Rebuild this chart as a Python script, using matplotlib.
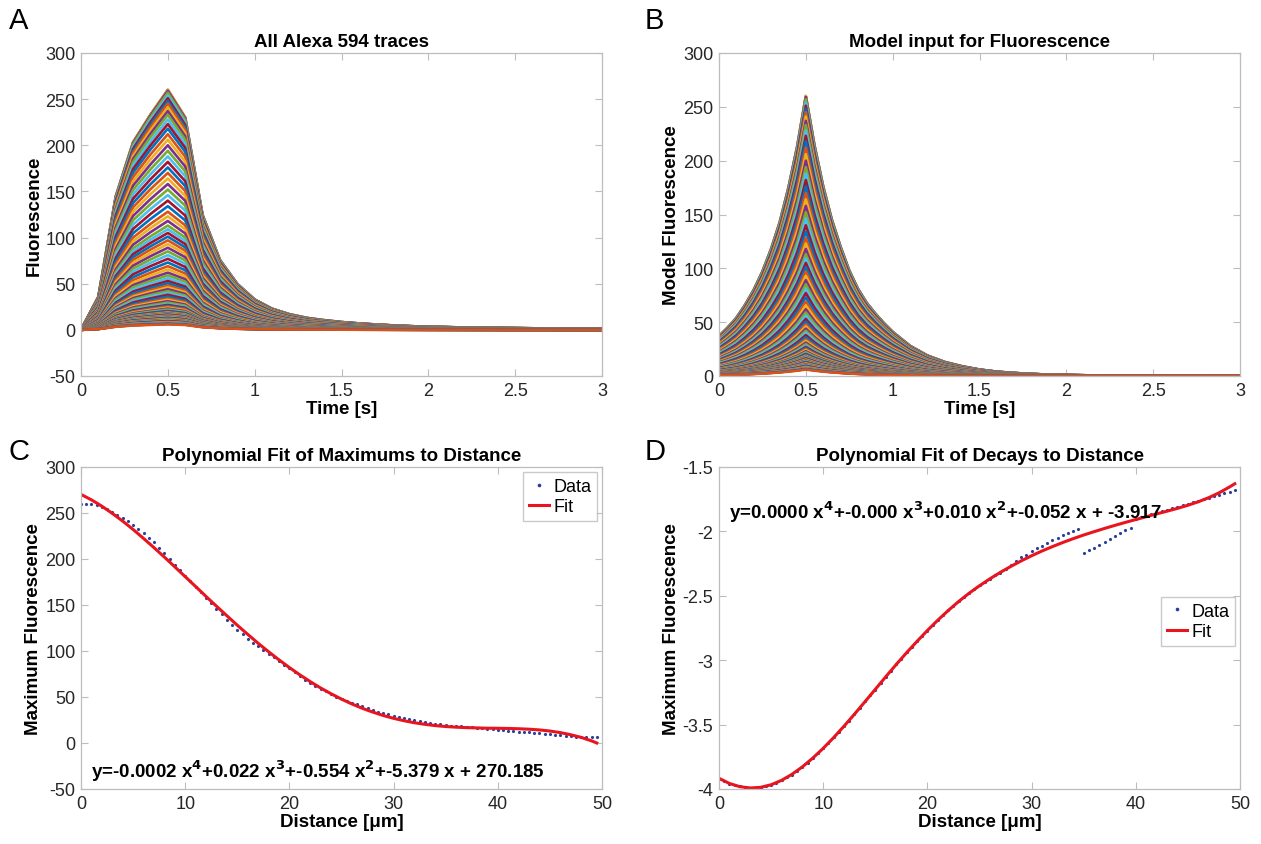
import numpy as np
import matplotlib
matplotlib.use("Agg")
import matplotlib.pyplot as plt

plt.rcParams['font.family'] = ['Liberation Sans', 'DejaVu Sans']
plt.rcParams['axes.unicode_minus'] = False

# MATLAB default line colour order
matlab_colors = ['#0072BD', '#D95319', '#EDB120', '#7E2F8E',
                 '#77AC30', '#4DBEEE', '#A2142F']

# ---- distances along the dendrite (um) and measured maxima / decays ----
distance = np.arange(0, 50, 0.5)

max_data = [260, 260, 260, 259, 257, 254, 251, 248, 245, 241,
            237, 233, 228, 223, 218, 212, 206, 200, 194, 188,
            182, 176, 170, 164, 158, 152, 146, 140, 134, 128,
            123, 118, 113, 109, 105, 101, 97, 93, 89, 85,
            81, 77, 73, 69, 65.5, 62, 59, 56, 53, 50.5,
            48, 46, 44, 42, 40, 38, 36, 34, 32.5, 31,
            29.5, 28, 27, 26, 25, 24, 23, 22, 21, 20.5,
            20, 19, 18.5, 18, 17.5, 17, 16.5, 16, 15.5, 15,
            14.5, 14, 13.5, 13, 12.5, 12, 11.5, 11, 10.5, 10,
            9.5, 9, 8.5, 8, 7.5, 7, 7, 6.5, 6.5, 6]

decay_data = [-3.92, -3.94, -3.96, -3.97, -3.98, -3.99, -3.99, -3.99, -3.99, -3.98,
              -3.97, -3.95, -3.93, -3.91, -3.89, -3.86, -3.83, -3.80, -3.76, -3.72,
              -3.68, -3.64, -3.60, -3.56, -3.51, -3.47, -3.42, -3.37, -3.32, -3.27,
              -3.23, -3.18, -3.13, -3.08, -3.03, -2.99, -2.94, -2.90, -2.85, -2.81,
              -2.77, -2.73, -2.69, -2.65, -2.61, -2.58, -2.54, -2.51, -2.48, -2.45,
              -2.42, -2.39, -2.37, -2.34, -2.32, -2.29, -2.26, -2.23, -2.20, -2.18,
              -2.15, -2.13, -2.11, -2.09, -2.07, -2.05, -2.03, -2.01, -1.995, -1.98,
              -2.170, -2.148, -2.126, -2.103, -2.081, -2.059, -2.037, -2.014, -1.992, -1.970,
              -1.900, -1.888, -1.877, -1.865, -1.854, -1.842, -1.830, -1.819, -1.807, -1.796,
              -1.784, -1.772, -1.761, -1.749, -1.738, -1.726, -1.714, -1.703, -1.691, -1.680]

# polynomial fit curves (1 um steps)
fit_x = list(range(0, 50)) + [49.5]
max_fit = [270.2, 264.3, 257.4, 249.6, 241.2, 232.1, 222.4, 212.4, 202.1, 191.5,
           180.8, 170.1, 159.3, 148.7, 138.3, 128.0, 118.1, 108.4, 99.2, 90.4,
           82.0, 74.1, 66.7, 59.8, 53.5, 47.7, 42.4, 37.7, 33.6, 29.9,
           26.8, 24.2, 22.0, 20.3, 18.9, 17.9, 17.2, 16.7, 16.4, 16.1,
           16.0, 15.8, 15.5, 15.0, 14.2, 13.0, 11.3, 9.0, 6.1, 2.3, 0.0]
decay_fit = [-3.917, -3.957, -3.982, -3.992, -3.987, -3.967, -3.933, -3.886, -3.828, -3.760,
             -3.684, -3.601, -3.512, -3.419, -3.323, -3.226, -3.129, -3.034, -2.942, -2.854,
             -2.769, -2.689, -2.614, -2.544, -2.480, -2.422, -2.368, -2.318, -2.272, -2.229,
             -2.189, -2.152, -2.118, -2.086, -2.056, -2.028, -2.002, -1.977, -1.953, -1.930,
             -1.908, -1.886, -1.864, -1.843, -1.821, -1.797, -1.770, -1.738, -1.700, -1.655,
             -1.630]

# time course of the brightest trace (A) and the model trace (B)
t_meas = np.round(np.arange(0, 3.01, 0.1), 2)
trace_meas = [0, 36, 145, 204, 234, 261, 231, 125, 76, 50,
              33, 23, 17, 13, 10.5, 8.5, 7, 5.8, 4.8, 4, 3.4,
              3.0, 2.6, 2.3, 2.1, 1.9, 1.7, 1.5, 1.4, 1.3, 1.2]

t_model = [0, 0.05, 0.1, 0.15, 0.2, 0.25, 0.3, 0.35, 0.4, 0.45, 0.5,
           0.55, 0.6, 0.65, 0.7, 0.75, 0.8, 0.85, 0.9, 0.95, 1.0,
           1.1, 1.2, 1.3, 1.4, 1.5, 1.6, 1.7, 1.8, 1.9, 2.0,
           2.2, 2.4, 2.6, 2.8, 3.0]
trace_model = [37, 45, 54, 66, 80, 97, 118, 143, 175, 213, 260,
               214, 176, 145, 120, 98, 81, 68, 58, 49, 41,
               28, 19, 13, 9, 6, 4, 2.8, 1.9, 1.3, 0.9,
               0.45, 0.2, 0.1, 0.05, 0.02]

# ------------------------------------------------------------------------
W, H = 1261, 845
fig = plt.figure(figsize=(W / 100, H / 100), dpi=100)


def px_axes(l, t, r, b):
    return fig.add_axes([l / W, 1 - b / H, (r - l) / W, (b - t) / H])


def style(ax):
    for s in ax.spines.values():
        s.set_color('#bdbdbd')
        s.set_linewidth(0.9)
    ax.tick_params(direction='in', top=True, right=True, length=5,
                   color='#bdbdbd', labelcolor='#262626', labelsize=13, pad=4)


axA = px_axes(81, 54, 602, 377)
axB = px_axes(719, 54, 1240, 377)
axC = px_axes(81, 468, 602, 790)
axD = px_axes(719, 468, 1240, 790)

amp = np.array(max_data) / max(trace_meas)
amp_model = np.array(max_data) / max(trace_model)
time_ticks = [0, 0.5, 1, 1.5, 2, 2.5, 3]
time_labels = ['0', '0.5', '1', '1.5', '2', '2.5', '3']

# A: all measured traces
for i, a in enumerate(amp):
    axA.plot(t_meas, a * np.array(trace_meas), color=matlab_colors[i % 7], lw=1.9)
axA.set_xlim(0, 3)
axA.set_ylim(-50, 300)
axA.set_xticks(time_ticks)
axA.set_xticklabels(time_labels)
axA.set_title('All Alexa 594 traces', fontsize=13.5, fontweight='bold', pad=5)
axA.set_xlabel('Time [s]', fontsize=13.5, fontweight='bold', labelpad=1)
axA.set_ylabel('Fluorescence', fontsize=13.5, fontweight='bold', labelpad=2)

# B: model traces
for i, a in enumerate(amp_model):
    axB.plot(t_model, a * np.array(trace_model), color=matlab_colors[i % 7], lw=1.9)
axB.set_xlim(0, 3)
axB.set_ylim(0, 300)
axB.set_xticks(time_ticks)
axB.set_xticklabels(time_labels)
axB.set_title('Model input for Fluorescence', fontsize=13.5, fontweight='bold', pad=5)
axB.set_xlabel('Time [s]', fontsize=13.5, fontweight='bold', labelpad=1)
axB.set_ylabel('Model Fluorescence', fontsize=13.5, fontweight='bold', labelpad=2)

leg_kw = dict(fontsize=13, fancybox=False, edgecolor='#bdbdbd', handlelength=1.1,
              handletextpad=0.25, borderpad=0.3, labelspacing=0.2,
              borderaxespad=0.3, markerscale=1.3)

# C: maxima vs distance
axC.plot(distance, max_data, '.', color='#2b3f9e', ms=2.5, label='Data')
axC.plot(fit_x, max_fit, '-', color='#e8141e', lw=2.2, label='Fit')
axC.set_xlim(0, 50)
axC.set_ylim(-50, 300)
axC.set_xticks([0, 10, 20, 30, 40, 50])
axC.set_title('Polynomial Fit of Maximums to Distance', fontsize=13.5,
              fontweight='bold', pad=5)
axC.set_xlabel('Distance [\u03bcm]', fontsize=13.5, fontweight='bold', labelpad=1)
axC.set_ylabel('Maximum Fluorescence', fontsize=13.5, fontweight='bold', labelpad=2)
axC.text(1.0, -30, r'y=-0.0002 x$^{\mathbf{4}}$+0.022 x$^{\mathbf{3}}$+-0.554 x$^{\mathbf{2}}$+-5.379 x + 270.185',
         fontsize=13.5, fontweight='bold', va='center', color='black')
axC.legend(loc='upper right', **leg_kw)

# D: decays vs distance
axD.plot(distance, decay_data, '.', color='#2b3f9e', ms=2.5, label='Data')
axD.plot(fit_x, decay_fit, '-', color='#e8141e', lw=2.2, label='Fit')
axD.set_xlim(0, 50)
axD.set_ylim(-4, -1.5)
axD.set_xticks([0, 10, 20, 30, 40, 50])
axD.set_yticks([-4, -3.5, -3, -2.5, -2, -1.5])
axD.set_yticklabels(['-4', '-3.5', '-3', '-2.5', '-2', '-1.5'])
axD.set_title('Polynomial Fit of Decays to Distance', fontsize=13.5,
              fontweight='bold', pad=5)
axD.set_xlabel('Distance [\u03bcm]', fontsize=13.5, fontweight='bold', labelpad=1)
axD.set_ylabel('Maximum Fluorescence', fontsize=13.5, fontweight='bold', labelpad=2)
axD.text(1.0, -1.84, r'y=0.0000 x$^{\mathbf{4}}$+-0.000 x$^{\mathbf{3}}$+0.010 x$^{\mathbf{2}}$+-0.052 x + -3.917',
         fontsize=13.5, fontweight='bold', va='center', color='black')
axD.legend(loc='center right', bbox_to_anchor=(1.0, 0.52), **leg_kw)

for ax in (axA, axB, axC, axD):
    style(ax)

# panel letters
fig.text(9 / W, 1 - 7 / H, 'A', fontsize=21, va='top', ha='left')
fig.text(645 / W, 1 - 7 / H, 'B', fontsize=21, va='top', ha='left')
fig.text(9 / W, 1 - 438 / H, 'C', fontsize=21, va='top', ha='left')
fig.text(645 / W, 1 - 438 / H, 'D', fontsize=21, va='top', ha='left')

fig.savefig('out.png', dpi=100, facecolor='white')
